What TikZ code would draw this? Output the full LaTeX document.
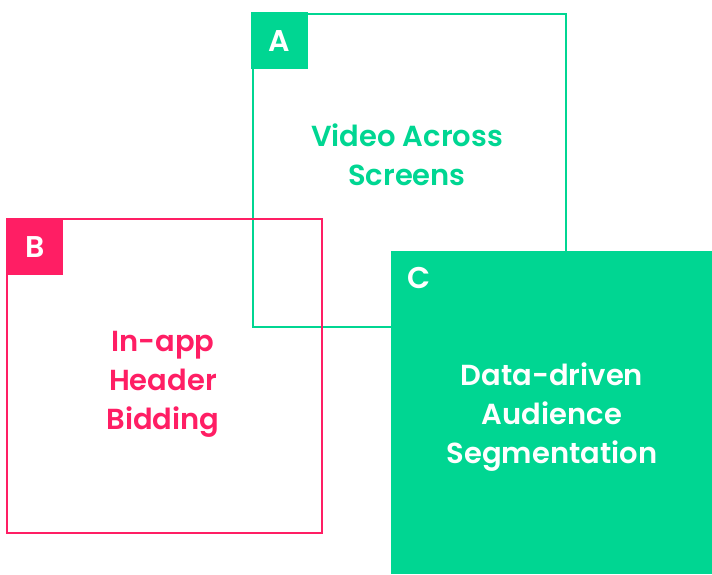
\documentclass[tikz,border=0pt]{standalone}
\usepackage{fontspec}
\setmainfont{Poppins}[UprightFont=* Medium, BoldFont=* SemiBold]
\definecolor{vgreen}{RGB}{0,214,146}
\definecolor{vpink}{RGB}{255,30,100}
\begin{document}
\begin{tikzpicture}[x=1pt,y=-1pt,
  boxline/.style={line width=2.4pt},
  tag/.style={minimum size=57pt, inner sep=0pt, text=white, font=\fontsize{30}{30}\selectfont\bfseries, anchor=north west},
  txt/.style={align=center, font=\fontsize{29}{39}\selectfont\bfseries}]
\useasboundingbox (0,0) rectangle (712,574);
% Box A
\node[draw=vgreen, boxline, minimum width=313pt, minimum height=313pt, inner sep=0pt, anchor=north west] (boxA) at (252,13) {};
\node[tag, fill=vgreen] (tagA) at (251,12) {A};
\node[txt, text=vgreen] (txtA) at (407,155) {Video Across\\Screens};
% Box B
\node[draw=vpink, boxline, minimum width=315pt, minimum height=314pt, inner sep=0pt, anchor=north west] (boxB) at (6,218) {};
\node[tag, fill=vpink] (tagB) at (6,218) {B};
\node[txt, text=vpink] (txtB) at (163,384) {In-app\\Header\\Bidding};
% Box C
\node[fill=vgreen, minimum width=321pt, minimum height=323pt, inner sep=0pt, anchor=north west] (boxC) at (391,251) {};
\node[text=white, font=\fontsize{30}{30}\selectfont\bfseries] (tagC) at (419,278) {C};
\node[txt, text=white] (txtC) at (552,417) {Data-driven\\Audience\\Segmentation};
\end{tikzpicture}
\end{document}
